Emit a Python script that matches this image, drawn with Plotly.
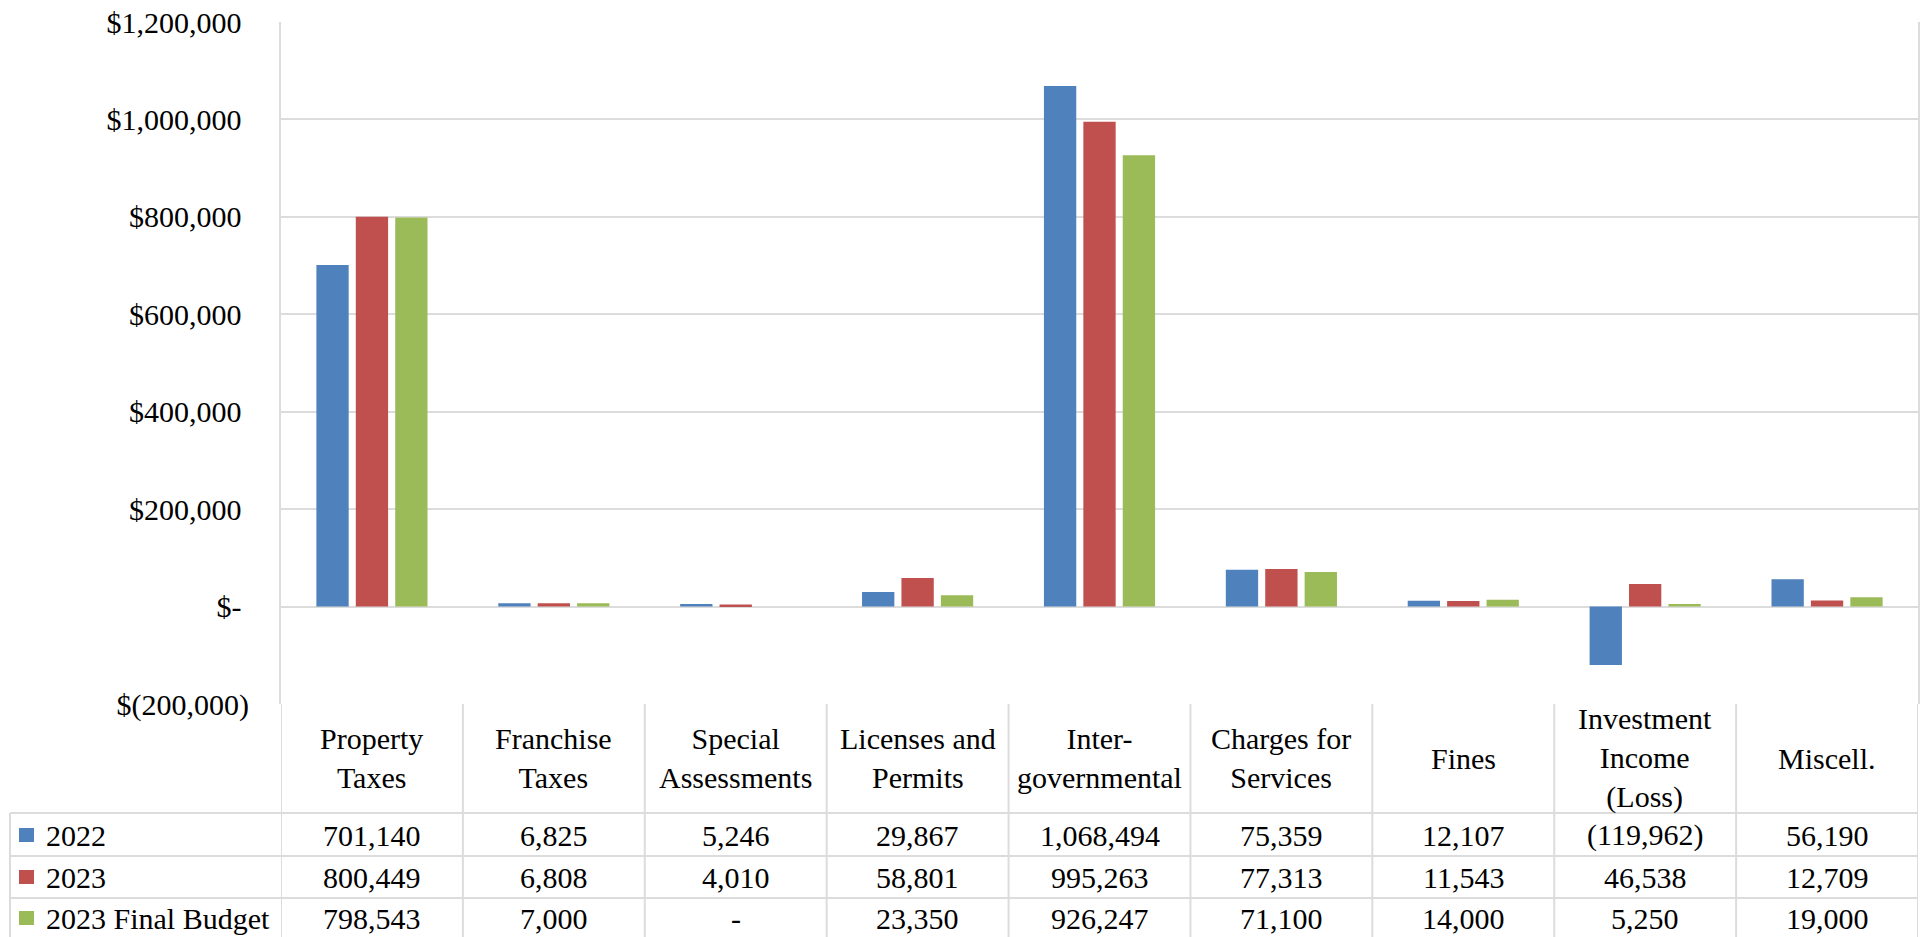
import plotly.graph_objects as go

# ---------------- data ----------------
categories = ["Property Taxes", "Franchise Taxes", "Special Assessments", "Licenses and Permits",
              "Intergovernmental", "Charges for Services", "Fines", "Investment Income (Loss)", "Miscell."]
header_labels = ["Property<br>Taxes", "Franchise<br>Taxes", "Special<br>Assessments", "Licenses and<br>Permits",
                 "Inter-<br>governmental", "Charges for<br>Services", "Fines", "Investment<br>Income<br>(Loss)",
                 "Miscell."]
series_names = ["2022", "2023", "2023 Final Budget"]
values_2022 = [701140, 6825, 5246, 29867, 1068494, 75359, 12107, -119962, 56190]
values_2023 = [800449, 6808, 4010, 58801, 995263, 77313, 11543, 46538, 12709]
values_budget = [798543, 7000, 0, 23350, 926247, 71100, 14000, 5250, 19000]
tick_values = [-200000, 0, 200000, 400000, 600000, 800000, 1000000, 1200000]
tick_labels = ["$(200,000)", "$-\u00a0", "$200,000\u00a0", "$400,000\u00a0", "$600,000\u00a0",
               "$800,000\u00a0", "$1,000,000\u00a0", "$1,200,000\u00a0"]
colors = ["#4f81bd", "#c0504d", "#9bbb59"]

# ---------------- layout constants ----------------
W, H = 1925, 937
FONT = "Liberation Serif, Times New Roman, serif"
FS = 30
GRID = "#dcdcdc"
plot_left, plot_right = 281, 1918
plot_top, plot_bottom = 22, 704
row_lines = [813, 856, 898]
row_centers = [835, 877, 918]
header_center = 758
table_left = 10


def py(px):
    return 1 - px / H


def px_x(px):
    return px / W


def fmt(v):
    if v == 0:
        return "-"
    if v < 0:
        return "({:,})".format(-v)
    return "{:,}".format(v)


series_values = [values_2022, values_2023, values_budget]

fig = go.Figure()
for name, vals, col in zip(series_names, series_values, colors):
    fig.add_trace(go.Bar(x=categories, y=vals, name=name, marker=dict(color=col, line=dict(width=0))))

shapes = []
annotations = []

# vertical category separators in table
for i in range(len(categories) + 1):
    shapes.append(dict(type="line", xref="x", yref="paper", x0=i - 0.5, x1=i - 0.5,
                       y0=0, y1=py(plot_bottom), line=dict(color=GRID, width=2)))
# horizontal table row lines
for yl in row_lines:
    shapes.append(dict(type="line", xref="paper", yref="paper", x0=px_x(table_left), x1=px_x(plot_right),
                       y0=py(yl), y1=py(yl), line=dict(color=GRID, width=2)))
# left border of legend column
shapes.append(dict(type="line", xref="paper", yref="paper", x0=px_x(table_left), x1=px_x(table_left),
                   y0=0, y1=py(row_lines[0]), line=dict(color=GRID, width=2)))

# header labels
for i, lab in enumerate(header_labels):
    annotations.append(dict(xref="x", yref="paper", x=i, y=py(header_center), text=lab, showarrow=False,
                            xanchor="center", yanchor="middle", align="center",
                            font=dict(family=FONT, size=FS, color="black")))

# value rows + legend keys
for r, (name, vals, col) in enumerate(zip(series_names, series_values, colors)):
    yc = row_centers[r]
    shapes.append(dict(type="rect", xref="paper", yref="paper", x0=px_x(19), x1=px_x(34),
                       y0=py(yc + 7), y1=py(yc - 7), fillcolor=col, line=dict(width=0)))
    annotations.append(dict(xref="paper", yref="paper", x=px_x(44), y=py(yc), text=name, showarrow=False,
                            xanchor="left", yanchor="middle",
                            font=dict(family=FONT, size=FS, color="black")))
    for i, v in enumerate(vals):
        annotations.append(dict(xref="x", yref="paper", x=i, y=py(yc), text=fmt(v), showarrow=False,
                                xanchor="center", yanchor="middle",
                                font=dict(family=FONT, size=FS, color="black")))

fig.update_layout(
    width=W, height=H,
    margin=dict(l=0, r=0, t=0, b=0, pad=0),
    paper_bgcolor="white", plot_bgcolor="white",
    barmode="group", bargap=0.35, bargroupgap=0.18,
    showlegend=False,
    font=dict(family=FONT, size=FS, color="black"),
    xaxis=dict(domain=[px_x(plot_left), px_x(plot_right)], range=[-0.5, len(categories) - 0.5],
               showticklabels=False, showgrid=False, zeroline=False, showline=False,
               automargin=False, fixedrange=True),
    yaxis=dict(domain=[py(plot_bottom), py(plot_top)], range=[-200000, 1200000],
               tickvals=tick_values, ticktext=tick_labels, showgrid=True, gridcolor=GRID, gridwidth=2,
               zeroline=True, zerolinecolor=GRID, zerolinewidth=2,
               showline=True, linecolor=GRID, linewidth=2, mirror=True,
               ticks="", ticklabelstandoff=24, automargin=False,
               tickfont=dict(family=FONT, size=FS, color="black")),
    shapes=shapes,
    annotations=annotations,
)

fig.write_html("out.html")
